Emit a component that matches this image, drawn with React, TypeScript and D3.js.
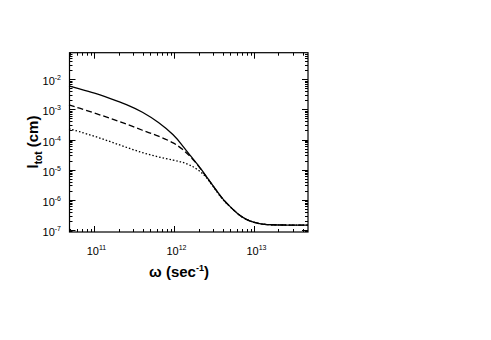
import React, { useRef, useEffect } from "react";
import * as d3 from "d3";

// frequency grid (sec^-1)
const omega = [
  4.8e10, 6.3e10, 1e11, 1.58e11, 2.51e11, 3.98e11, 6.31e11, 1e12, 1.26e12,
  1.58e12, 2e12, 2.51e12, 3.16e12, 3.98e12, 5.01e12, 6.31e12, 7.94e12, 1e13,
  1.26e13, 1.58e13, 2.51e13, 4.68e13,
];

// l_tot (cm) for the three curves
const solid = [
  6.0e-3, 4.9e-3, 3.5e-3, 2.3e-3, 1.48e-3, 8.3e-4, 3.8e-4, 1.38e-4, 6.3e-5,
  2.9e-5, 1.38e-5, 5.9e-6, 2.57e-6, 1.07e-6, 5.8e-7, 3.2e-7, 2.2e-7, 1.74e-7,
  1.55e-7, 1.48e-7, 1.45e-7, 1.45e-7,
];
const dashed = [
  1.41e-3, 1.12e-3, 7.6e-4, 5.0e-4, 3.3e-4, 2.0e-4, 1.32e-4, 7.6e-5, 4.8e-5,
  2.75e-5, 1.35e-5, 5.75e-6, 2.5e-6, 1.06e-6, 5.8e-7, 3.2e-7, 2.2e-7, 1.74e-7,
  1.55e-7, 1.48e-7, 1.45e-7, 1.45e-7,
];
const dotted = [
  2.3e-4, 1.86e-4, 1.29e-4, 8.5e-5, 5.5e-5, 3.6e-5, 2.63e-5, 2.04e-5, 1.78e-5,
  1.41e-5, 9.8e-6, 5.75e-6, 2.4e-6, 1.02e-6, 5.8e-7, 3.2e-7, 2.2e-7, 1.74e-7,
  1.55e-7, 1.48e-7, 1.45e-7, 1.45e-7,
];

const xTickExp = [11, 12, 13];
const yTickExp = [-2, -3, -4, -5, -6, -7];

const series = [
  { values: solid, dash: null },
  { values: dashed, dash: "6,3" },
  { values: dotted, dash: "1.5,2" },
];

const App = () => {
  const svgRef = useRef<SVGSVGElement>(null);

  useEffect(() => {
    const svg = d3.select(svgRef.current);
    svg.selectAll("*").remove();

    const left = 69.5,
      right = 308,
      top = 52.7,
      bottom = 232;
    const font = "Liberation Sans, Arial, sans-serif";

    const x = d3.scaleLog().domain([4.87e10, 4.68e13]).range([left, right]);
    const y = d3.scaleLog().domain([1e-7 / 1.17, 10 ** -1.12]).range([bottom, top]);

    // minor + major ticks
    const xTicks: { v: number; major: boolean }[] = [];
    for (let e = 10; e <= 13; e++) {
      for (let m = 1; m <= 9; m++) {
        const v = m * 10 ** e;
        if (v >= x.domain()[0] && v <= x.domain()[1]) xTicks.push({ v, major: m === 1 });
      }
    }
    const yTicks: { v: number; major: boolean }[] = [];
    for (let e = -8; e <= -2; e++) {
      for (let m = 1; m <= 9; m++) {
        const v = m * 10 ** e;
        if (v >= y.domain()[0] && v <= y.domain()[1]) yTicks.push({ v, major: m === 1 });
      }
    }

    const tk = svg.append("g").attr("stroke", "#000").attr("stroke-width", 1);
    xTicks.forEach((t) => {
      const px = Math.round(x(t.v)) + 0.5;
      const len = t.major ? 6 : 3;
      tk.append("line").attr("x1", px).attr("x2", px).attr("y1", bottom).attr("y2", bottom - len);
      tk.append("line").attr("x1", px).attr("x2", px).attr("y1", top).attr("y2", top + len);
    });
    yTicks.forEach((t) => {
      const py = Math.round(y(t.v)) + 0.5;
      const len = t.major ? 6 : 3;
      tk.append("line").attr("x1", left).attr("x2", left + len).attr("y1", py).attr("y2", py);
      tk.append("line").attr("x1", right).attr("x2", right - len).attr("y1", py).attr("y2", py);
    });

    // curves
    const line = d3
      .line<number>()
      .x((_, i) => x(omega[i]))
      .y((d) => y(d))
      .curve(d3.curveBasis);

    series.forEach((s) => {
      svg
        .append("path")
        .datum(s.values)
        .attr("fill", "none")
        .attr("stroke", "#000")
        .attr("stroke-width", 1.3)
        .attr("stroke-dasharray", s.dash)
        .attr("d", line);
    });

    // frame
    svg
      .append("rect")
      .attr("x", left)
      .attr("y", top)
      .attr("width", right - left)
      .attr("height", bottom - top)
      .attr("fill", "none")
      .attr("stroke", "#000")
      .attr("stroke-width", 1.2);

    // x tick labels
    xTickExp.forEach((e) => {
      const t = svg
        .append("text")
        .attr("x", x(10 ** e) + 2)
        .attr("y", 255)
        .attr("text-anchor", "middle")
        .attr("font-family", font)
        .attr("font-size", 11);
      t.append("tspan").text("10");
      t.append("tspan").attr("dy", -5).attr("font-size", 7).text(String(e));
    });

    // y tick labels
    yTickExp.forEach((e) => {
      const t = svg
        .append("text")
        .attr("x", 61)
        .attr("y", y(10 ** e) + 6)
        .attr("text-anchor", "end")
        .attr("font-family", font)
        .attr("font-size", 11);
      t.append("tspan").text("10");
      t.append("tspan").attr("dy", -5).attr("font-size", 7).text(String(e));
    });

    // axis titles
    const xt = svg
      .append("text")
      .attr("x", 179)
      .attr("y", 277)
      .attr("text-anchor", "middle")
      .attr("font-family", font)
      .attr("font-size", 15)
      .attr("font-weight", "bold");
    xt.append("tspan").text("ω (sec");
    xt.append("tspan").attr("dy", -6).attr("font-size", 9).text("-1");
    xt.append("tspan").attr("dy", 6).text(")");

    const yt = svg
      .append("text")
      .attr("transform", "translate(38,142) rotate(-90)")
      .attr("text-anchor", "middle")
      .attr("font-family", font)
      .attr("font-size", 15)
      .attr("font-weight", "bold");
    yt.append("tspan").text("l");
    yt.append("tspan").attr("dy", 4).attr("font-size", 10).text("tot");
    yt.append("tspan").attr("dy", -4).text(" (cm)");
  }, []);

  return (
    <svg
      ref={svgRef}
      width={491}
      height={340}
      style={{ position: "absolute", left: 0, top: 0, background: "#fff" }}
    ></svg>
  );
};

export default App;
